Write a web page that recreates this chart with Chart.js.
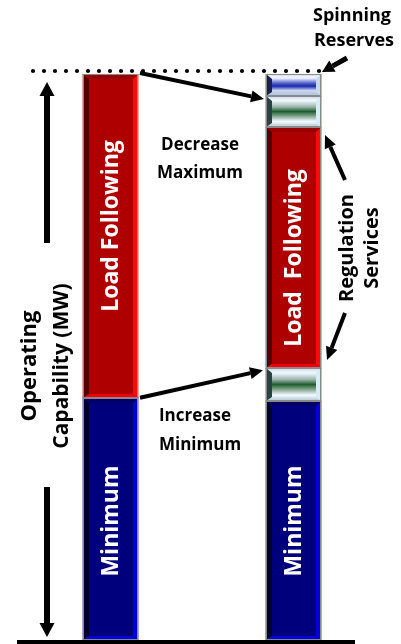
<!DOCTYPE html>
<html>
<head>
<meta charset="utf-8">
<script src="https://cdn.jsdelivr.net/npm/chart.js@4"></script>
<style>
  html, body { margin: 0; padding: 0; background: #fff; }
  #wrap { width: 401px; height: 644px; position: relative; }
</style>
</head>
<body>
<div id="wrap"><canvas id="chart"></canvas></div>
<script>
/* ---- Data (share of operating capability, %) ---- */
const categories = ["Without regulation", "With regulation"];
const minimumMW = [42.8, 42.2];
const regulationDownMW = [0, 5.8];
const loadFollowingMW = [57.2, 42.6];
const regulationUpMW = [0, 5.5];
const spinningReserveMW = [0, 3.9];
const capacityMax = 100;

/* ---- Palette ---- */
const palette = {
  red:   { main: "#AE0000", dark: "#520000", light: "#FF0A0A", top: "#9A0000", bottom: "#F00000" },
  blue:  { main: "#00007C", dark: "#000030", light: "#0000DA", top: "#000066", bottom: "#0000E0" },
  green: { dark: "#2E4040", light: "#D8ECF8",
           stops: [[0, "#C8D8E4"], [0.15, "#F2F8FF"], [0.35, "#9CB4AC"], [0.5, "#1E5E2C"],
                   [0.66, "#8AAA98"], [0.82, "#F4FAFF"], [1, "#AFC3D0"]] },
  spin:  { dark: "#1A2050", light: "#C8D8F0",
           stops: [[0, "#D0DCEC"], [0.18, "#F4F8FF"], [0.42, "#5060C8"], [0.55, "#1828A8"],
                   [0.75, "#C8D6F2"], [1, "#B0C0D6"]] }
};

const styles = [palette.blue, palette.green, palette.red, palette.green, palette.spin];
const FONT = "'Open Sans'";

/* ---- helpers ---- */
function arrow(ctx, x1, y1, x2, y2, w, hl, hw) {
  const a = Math.atan2(y2 - y1, x2 - x1);
  const bx = x2 - hl * Math.cos(a), by = y2 - hl * Math.sin(a);
  ctx.save();
  ctx.strokeStyle = "#000";
  ctx.fillStyle = "#000";
  ctx.lineWidth = w;
  ctx.beginPath();
  ctx.moveTo(x1, y1);
  ctx.lineTo(bx, by);
  ctx.stroke();
  ctx.beginPath();
  ctx.moveTo(x2, y2);
  ctx.lineTo(bx + hw / 2 * Math.sin(a), by - hw / 2 * Math.cos(a));
  ctx.lineTo(bx - hw / 2 * Math.sin(a), by + hw / 2 * Math.cos(a));
  ctx.closePath();
  ctx.fill();
  ctx.restore();
}

function poly(ctx, pts, fill) {
  ctx.beginPath();
  ctx.moveTo(pts[0][0], pts[0][1]);
  for (let i = 1; i < pts.length; i++) ctx.lineTo(pts[i][0], pts[i][1]);
  ctx.closePath();
  ctx.fillStyle = fill;
  ctx.fill();
}

function bevelBox(ctx, x0, y0, x1, y1, c) {
  const l = 6, r = 5, t = 5, b = 4;
  if (c.stops) {
    const g = ctx.createLinearGradient(0, y0, 0, y1);
    c.stops.forEach(s => g.addColorStop(s[0], s[1]));
    ctx.fillStyle = g;
    ctx.fillRect(x0, y0, x1 - x0, y1 - y0);
    poly(ctx, [[x0, y0], [x0 + l, y0 + t], [x0 + l, y1 - b], [x0, y1]], c.dark);
    poly(ctx, [[x1, y0], [x1 - r, y0 + t], [x1 - r, y1 - b], [x1, y1]], c.light);
  } else {
    ctx.fillStyle = c.main;
    ctx.fillRect(x0, y0, x1 - x0, y1 - y0);
    poly(ctx, [[x0, y0], [x0 + l, y0 + t], [x0 + l, y1 - b], [x0, y1]], c.dark);
    poly(ctx, [[x1, y0], [x1 - r, y0 + t], [x1 - r, y1 - b], [x1, y1]], c.light);
    poly(ctx, [[x0, y0], [x1, y0], [x1 - r, y0 + t], [x0 + l, y0 + t]], c.top);
    poly(ctx, [[x0, y1], [x1, y1], [x1 - r, y1 - b], [x0 + l, y1 - b]], c.bottom);
  }
  ctx.strokeStyle = "#8A8A8A";
  ctx.lineWidth = 1;
  ctx.strokeRect(x0 + 0.5, y0 + 0.5, x1 - x0 - 1, y1 - y0 - 1);
}

function vText(ctx, txt, x, y, font, color) {
  ctx.save();
  ctx.translate(x, y);
  ctx.rotate(-Math.PI / 2);
  ctx.font = font;
  ctx.fillStyle = color;
  ctx.textAlign = "center";
  ctx.textBaseline = "middle";
  ctx.fillText(txt, 0, 0);
  ctx.restore();
}

function hText(ctx, txt, x, y, font) {
  ctx.font = font;
  ctx.fillStyle = "#000";
  ctx.textAlign = "center";
  ctx.textBaseline = "middle";
  ctx.fillText(txt, x, y);
}

/* ---- Diagram overlay ---- */
const diagramPlugin = {
  id: "diagram",
  afterDatasetsDraw(chart) {
    const ctx = chart.ctx;
    chart.data.datasets.forEach((ds, i) => {
      const meta = chart.getDatasetMeta(i);
      meta.data.forEach((el, j) => {
        if (!ds.data[j]) return;
        const x0 = Math.round(el.x - el.width / 2), x1 = Math.round(el.x + el.width / 2);
        const y0 = Math.round(el.y), y1 = Math.round(el.base);
        bevelBox(ctx, x0, y0, x1, y1, styles[i]);
      });
    });
  },
  afterDraw(chart) {
    const ctx = chart.ctx;
    const y = chart.scales.y;
    const minEl = chart.getDatasetMeta(0).data;
    const loadEl = chart.getDatasetMeta(2).data;
    const regDn = chart.getDatasetMeta(1).data[1];
    const regUp = chart.getDatasetMeta(3).data[1];
    const top = y.getPixelForValue(capacityMax);

    // dotted capacity line
    ctx.save();
    ctx.fillStyle = "#000";
    for (let x = 33; x <= 324; x += 11) {
      ctx.beginPath();
      ctx.arc(x, top - 3, 2.1, 0, Math.PI * 2);
      ctx.fill();
    }
    ctx.restore();

    // baseline
    ctx.fillStyle = "#000";
    ctx.fillRect(17, y.getPixelForValue(0), 338, 4);

    // bar labels
    const lf = "bold 23px " + FONT;
    vText(ctx, "Load Following", loadEl[0].x + 1, 226, lf, "#fff");
    vText(ctx, "Load  Following", loadEl[1].x + 1, 258, lf, "#fff");
    vText(ctx, "Minimum", minEl[0].x + 1, 521, lf, "#fff");
    vText(ctx, "Minimum", minEl[1].x + 1, 521, lf, "#fff");

    // axis caption
    vText(ctx, "Operating", 30, 366, "bold 22px " + FONT, "#000");
    vText(ctx, "Capability (MW)", 62, 366, "bold 21px " + FONT, "#000");
    arrow(ctx, 47, 243, 47, 82, 6, 14, 15);
    arrow(ctx, 47, 487, 47, 637, 6, 14, 15);

    // annotations
    const an = "bold 17px " + FONT;
    hText(ctx, "Spinning", 352, 16, "bold 18px " + FONT);
    hText(ctx, "Reserves", 354, 41, "bold 18px " + FONT);
    arrow(ctx, 347, 58, 322, 72, 5, 12, 13);

    hText(ctx, "Decrease", 200, 145, an);
    hText(ctx, "Maximum", 200, 173, an);
    arrow(ctx, loadEl[0].x + loadEl[0].width / 2 + 2, loadEl[0].y - 1,
          regUp.x - regUp.width / 2 - 2, regUp.y + 3, 4, 13, 12);

    hText(ctx, "Increase", 195, 416, an);
    hText(ctx, "Minimum", 200, 445, an);
    arrow(ctx, loadEl[0].x + loadEl[0].width / 2 + 2, loadEl[0].base,
          regDn.x - regDn.width / 2 - 3, regDn.y + 2, 4, 13, 12);

    vText(ctx, "Regulation", 347, 248, "bold 20px " + FONT, "#000");
    vText(ctx, "Services", 372, 248, "bold 20px " + FONT, "#000");
    arrow(ctx, 345, 180, 325, 135, 4, 13, 12);
    arrow(ctx, 345, 313, 327, 360, 4, 13, 12);
  }
};

/* ---- Chart ---- */
const mk = (label, data, color) => ({
  label, data, backgroundColor: color, borderWidth: 0, barThickness: 55, stack: "cap"
});

new Chart(document.getElementById("chart"), {
  type: "bar",
  data: {
    labels: categories,
    datasets: [
      mk("Minimum", minimumMW, palette.blue.main),
      mk("Regulation (down)", regulationDownMW, "#1E5E2C"),
      mk("Load Following", loadFollowingMW, palette.red.main),
      mk("Regulation (up)", regulationUpMW, "#1E5E2C"),
      mk("Spinning Reserves", spinningReserveMW, "#1828A8")
    ]
  },
  options: {
    responsive: true,
    maintainAspectRatio: false,
    animation: false,
    layout: { padding: { left: 19, right: 16, top: 74, bottom: 4 } },
    scales: {
      x: { stacked: true, display: false },
      y: { stacked: true, display: false, min: 0, max: capacityMax }
    },
    plugins: { legend: { display: false }, tooltip: { enabled: false } }
  },
  plugins: [diagramPlugin]
});
</script>
</body>
</html>
